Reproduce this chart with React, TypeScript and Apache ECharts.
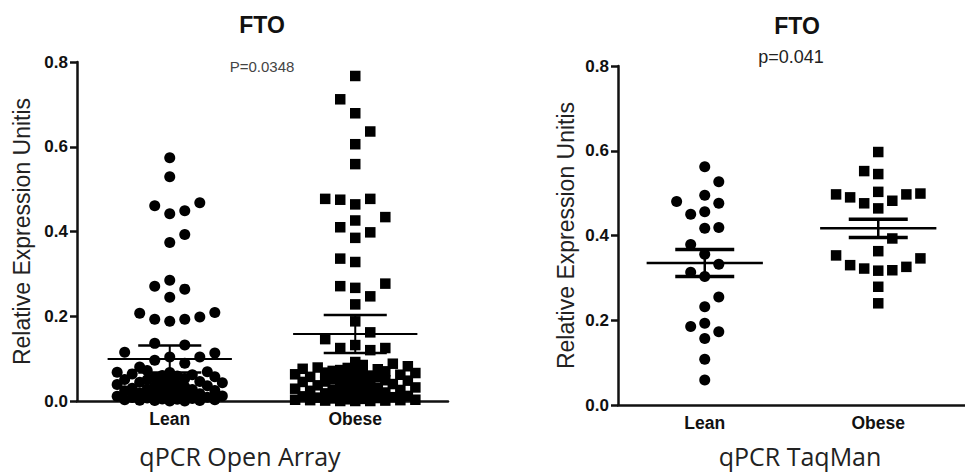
import React, { useEffect, useRef } from "react";
import * as echarts from "echarts";

// ---------- data ----------
const categories = ["Lean", "Obese"];
const yTickLabels = ["0.0", "0.2", "0.4", "0.6", "0.8"];

// qPCR Open Array
const leanOpenArray = [
  0.574, 0.529, 0.468, 0.461, 0.449, 0.442, 0.393, 0.374, 0.285, 0.271, 0.264, 0.245,
  0.209, 0.207, 0.198, 0.193, 0.193, 0.188,
  0.136, 0.132, 0.115, 0.113, 0.104, 0.104, 0.096, 0.089, 0.080, 0.068,
  0.072, 0.069, 0.067, 0.064, 0.062, 0.060, 0.059, 0.057, 0.055, 0.053, 0.051, 0.050,
  0.047, 0.046, 0.044, 0.043, 0.040, 0.039, 0.038, 0.036, 0.034, 0.033, 0.030, 0.029,
  0.028, 0.027, 0.025, 0.024, 0.021, 0.020, 0.019, 0.017, 0.015, 0.014, 0.013, 0.012,
  0.011, 0.009, 0.008, 0.007, 0.006, 0.005, 0.004, 0.003, 0.003, 0.002, 0.001, 0.001,
  0.000, 0.000,
];
const obeseOpenArray = [
  0.767, 0.712, 0.679, 0.636, 0.606, 0.559, 0.477, 0.477, 0.475, 0.464, 0.434, 0.426,
  0.410, 0.398, 0.385, 0.336, 0.328, 0.277, 0.271, 0.267, 0.247, 0.228, 0.188, 0.162,
  0.146, 0.132, 0.125, 0.125, 0.120, 0.092, 0.088, 0.085, 0.082,
  0.079, 0.078, 0.076, 0.075, 0.073, 0.071, 0.070, 0.069, 0.067, 0.066, 0.064, 0.063,
  0.062, 0.060, 0.059, 0.057, 0.056, 0.054, 0.052, 0.051, 0.049, 0.048, 0.046, 0.045,
  0.043, 0.041, 0.040, 0.038, 0.037, 0.035, 0.034, 0.032, 0.031, 0.029, 0.027, 0.026,
  0.024, 0.023, 0.021, 0.020, 0.018, 0.017, 0.015, 0.014, 0.012, 0.011, 0.009, 0.008,
  0.007, 0.006, 0.005, 0.004, 0.003, 0.003, 0.002, 0.002, 0.001, 0.001, 0.000, 0.000,
  0.000,
];
const meanOpenArray = [0.099, 0.158];
const semOpenArray = [0.032, 0.045];

// qPCR TaqMan
const leanTaqMan = [
  0.562, 0.527, 0.495, 0.480, 0.476, 0.456, 0.450, 0.419, 0.417, 0.379, 0.356,
  0.332, 0.313, 0.303, 0.255, 0.232, 0.193, 0.185, 0.173, 0.157, 0.108, 0.059,
];
const obeseTaqMan = [
  0.597, 0.552, 0.545, 0.503, 0.499, 0.497, 0.497, 0.490, 0.482, 0.476, 0.464,
  0.393, 0.363, 0.353, 0.346, 0.330, 0.326, 0.322, 0.318, 0.317, 0.279, 0.240,
];
const meanTaqMan = [0.335, 0.417];
const semTaqMan = [0.032, 0.0215];

// ---------- layout helpers ----------
const COL = 0.081; // horizontal step between dot columns, in category units
const TOL = 0.036; // vertical clearance between dots in one column, in value units

// column-scatter (beeswarm) layout computed from the values
function swarm(values: number[], maxK: number): number[] {
  const order = values.map((v, i) => ({ v, i })).sort((a, b) => a.v - b.v);
  const placed: { x: number; v: number }[] = [];
  const out = new Array(values.length).fill(0);
  let left = 0;
  let right = 0;
  for (const p of order) {
    let pos: number | null = null;
    for (let k = 0; k <= maxK && pos === null; k++) {
      const cands = k === 0 ? [0] : left < right ? [-k, k] : [k, -k];
      for (const c of cands) {
        const ok = placed.every((q) => q.x !== c || Math.abs(q.v - p.v) >= TOL);
        if (ok) {
          pos = c;
          break;
        }
      }
    }
    if (pos === null) {
      // dense region: pick the slot with the most room, favouring the middle
      let best = 0;
      let bestS = -1;
      for (let c = -maxK; c <= maxK + 1e-9; c += 0.5) {
        let d = Infinity;
        for (const q of placed) {
          const dx = (q.x - c) * TOL;
          const dy = q.v - p.v;
          d = Math.min(d, Math.sqrt(dx * dx + dy * dy));
        }
        const s = d * (1 - 0.07 * Math.abs(c));
        if (s > bestS + 1e-9 || (Math.abs(s - bestS) <= 1e-9 && Math.abs(c) < Math.abs(best))) {
          best = c;
          bestS = s;
        }
      }
      pos = best;
    }
    placed.push({ x: pos, v: p.v });
    if (pos < 0) left++;
    else if (pos > 0) right++;
    out[p.i] = pos;
  }
  return out;
}

function points(values: number[], center: number, maxK: number) {
  const off = swarm(values, maxK);
  return values.map((v, i) => [center + off[i] * COL, v]);
}

const FONT = "'Liberation Sans', Arial, sans-serif";

function meanSemItem(params: any, api: any, meanW: number, semW: number) {
  const i = api.value(0);
  const m = api.value(1);
  const s = api.value(2);
  const a = api.coord([i - 0.335, m]);
  const b = api.coord([i + 0.335, m]);
  const u1 = api.coord([i - 0.17, m + s]);
  const u2 = api.coord([i + 0.17, m + s]);
  const l1 = api.coord([i - 0.17, m - s]);
  const l2 = api.coord([i + 0.17, m - s]);
  const st = { stroke: "#000", lineWidth: semW };
  return {
    type: "group",
    children: [
      { type: "line", shape: { x1: a[0], y1: a[1], x2: b[0], y2: b[1] }, style: { stroke: "#000", lineWidth: meanW } },
      { type: "line", shape: { x1: u1[0], y1: u1[1], x2: u2[0], y2: u2[1] }, style: st },
      { type: "line", shape: { x1: l1[0], y1: l1[1], x2: l2[0], y2: l2[1] }, style: st },
      { type: "line", shape: { x1: (u1[0] + u2[0]) / 2, y1: u1[1], x2: (l1[0] + l2[0]) / 2, y2: l1[1] }, style: { stroke: "#000", lineWidth: meanW } },
    ],
  };
}

function catAxis(gridIndex: number) {
  return {
    type: "category",
    gridIndex,
    data: categories,
    boundaryGap: true,
    axisLine: { onZero: false, lineStyle: { color: "#111", width: 2.5 } },
    axisTick: { alignWithLabel: true, length: 7, lineStyle: { color: "#111", width: 2.5 } },
    axisLabel: { color: "#111", fontFamily: FONT, fontWeight: "bold", fontSize: 17.5, margin: 9 },
    splitLine: { show: false },
  };
}
function valXAxis(gridIndex: number) {
  return { type: "value", gridIndex, min: -0.5, max: 1.5, show: false, axisLine: { onZero: false }, splitLine: { show: false } };
}
function yAxis(gridIndex: number, nameGap: number) {
  return {
    type: "value",
    gridIndex,
    min: 0,
    max: 0.8,
    interval: 0.2,
    name: "Relative Expression Unitis",
    nameLocation: "middle",
    nameGap,
    nameTextStyle: { color: "#222", fontFamily: FONT, fontSize: 23 },
    axisLine: { show: true, onZero: false, lineStyle: { color: "#111", width: 2.5 } },
    axisTick: { show: true, length: 7, lineStyle: { color: "#111", width: 2.5 } },
    axisLabel: {
      color: "#111",
      fontFamily: FONT,
      fontWeight: "bold",
      fontSize: 17,
      margin: 9,
      formatter: (v: number) => yTickLabels[Math.round(v / 0.2)] ?? v.toFixed(1),
    },
    splitLine: { show: false },
  };
}

export default function App() {
  const ref = useRef<HTMLDivElement>(null);
  useEffect(() => {
    if (!ref.current) return;
    const chart = echarts.init(ref.current, null, { renderer: "svg" });
    const dot = { color: "#000", opacity: 1 };
    const option: any = {
      animation: false,
      backgroundColor: "#fff",
      grid: [
        { left: 77, right: 517, top: 62, bottom: 73 },
        { left: 618, right: -11, top: 66, bottom: 69 },
      ],
      xAxis: [catAxis(0), valXAxis(0), catAxis(1), valXAxis(1)],
      yAxis: [yAxis(0, 44), yAxis(1, 41)],
      series: [
        { type: "scatter", xAxisIndex: 1, yAxisIndex: 0, symbol: "circle", symbolSize: 11, itemStyle: dot, data: points(leanOpenArray, 0, 3.5) },
        { type: "scatter", xAxisIndex: 1, yAxisIndex: 0, symbol: "rect", symbolSize: 10.5, itemStyle: dot, data: points(obeseOpenArray, 1, 4) },
        {
          type: "custom",
          xAxisIndex: 1,
          yAxisIndex: 0,
          z: 5,
          data: categories.map((_, i) => [i, meanOpenArray[i], semOpenArray[i]]),
          renderItem: (p: any, api: any) => meanSemItem(p, api, 2, 2.5),
        },
        { type: "scatter", xAxisIndex: 3, yAxisIndex: 1, symbol: "circle", symbolSize: 11, itemStyle: dot, data: points(leanTaqMan, 0, 4) },
        { type: "scatter", xAxisIndex: 3, yAxisIndex: 1, symbol: "rect", symbolSize: 10.5, itemStyle: dot, data: points(obeseTaqMan, 1, 4) },
        {
          type: "custom",
          xAxisIndex: 3,
          yAxisIndex: 1,
          z: 5,
          data: categories.map((_, i) => [i, meanTaqMan[i], semTaqMan[i]]),
          renderItem: (p: any, api: any) => meanSemItem(p, api, 2.5, 3.5),
        },
      ],
      graphic: [
        { type: "text", x: 262, y: 25, style: { text: "FTO", textAlign: "center", textVerticalAlign: "middle", fill: "#111", font: `bold 23px ${FONT}` } },
        { type: "text", x: 262, y: 66, style: { text: "P=0.0348", textAlign: "center", textVerticalAlign: "middle", fill: "#444", font: `15px ${FONT}` } },
        { type: "text", x: 797, y: 26, style: { text: "FTO", textAlign: "center", textVerticalAlign: "middle", fill: "#111", font: `bold 23px ${FONT}` } },
        { type: "text", x: 791, y: 57, style: { text: "p=0.041", textAlign: "center", textVerticalAlign: "middle", fill: "#222", font: `18px ${FONT}` } },
        { type: "text", x: 240, y: 456, style: { text: "qPCR Open Array", textAlign: "center", textVerticalAlign: "middle", fill: "#222", font: `25px 'Open Sans', sans-serif` } },
        { type: "text", x: 800, y: 456, style: { text: "qPCR TaqMan", textAlign: "center", textVerticalAlign: "middle", fill: "#222", font: `25px 'Open Sans', sans-serif` } },
      ],
    };
    chart.setOption(option);
    return () => chart.dispose();
  }, []);
  return (
    <div
      ref={ref}
      style={{ position: "fixed", left: 0, top: 0, width: 965, height: 474, background: "#fff" }}
    />
  );
}
